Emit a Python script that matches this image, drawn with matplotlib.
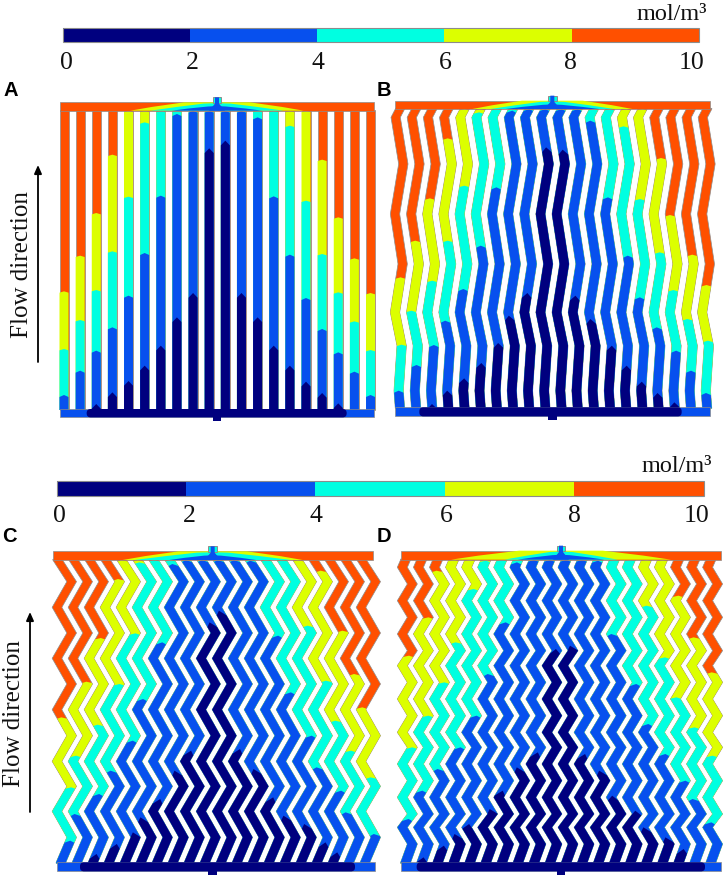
import numpy as np
import matplotlib
matplotlib.use("Agg")
import matplotlib.pyplot as plt
import matplotlib.patches as mpatches
from matplotlib.colors import ListedColormap, BoundaryNorm
from matplotlib.colorbar import ColorbarBase
from matplotlib.transforms import ScaledTranslation

W, H = 726, 879
SERIF = "Liberation Serif"
SANS = "Liberation Sans"

# colour scale
levels = [0, 2, 4, 6, 8, 10]
level_labels = ["0", "2", "4", "6", "8", "10"]
colors = ["#00007f", "#0750ee", "#00ffe1", "#dcff00", "#ff5000"]

n = np.nan
# where each channel crosses 8, 6, 4, 2 mol/m3 (panel units,
# measured downwards, nan = not reached inside the channel)
a_8 = [607, 500, 372, 197, 65, 65, 65, 65, 65, 65, 65, 65, 65, 65, 65, 65, 212, 385, 508, 612]
a_6 = [780, 693, 603, 487, 323, 100, 65, 65, 65, 65, 65, 65, 65, 65, 110, 335, 495, 610, 697, 783]
a_4 = [918, 845, 785, 715, 620, 492, 320, 75, 65, 65, 65, 65, 85, 322, 497, 627, 720, 790, 848, 918]
a_2 = [n, n, 945, 910, 876, 830, 770, 685, 612, 178, 155, 612, 685, 770, 830, 878, 912, 943, n, n]

b_8 = [565, 455, 328, 148, 60, 60, 60, 60, 60, 60, 60, 60, 60, 60, 60, 60, 207, 378, 497, 588]
b_6 = [767, 665, 575, 455, 290, 70, 60, 60, 60, 60, 60, 60, 60, 60, 112, 330, 490, 603, 690, 755]
b_4 = [905, 828, 768, 695, 600, 470, 295, 65, 60, 60, 60, 60, 95, 325, 500, 625, 715, 785, 845, 912]
b_2 = [n, n, 945, 905, 868, 822, 762, 680, 612, 175, 182, 620, 690, 770, 830, 878, 912, 940, n, n]

c_8 = [550, 443, 312, 135, 78, 78, 78, 78, 78, 78, 78, 78, 78, 78, 78, 78, 110, 290, 420, 520]
c_6 = [760, 665, 572, 450, 298, 85, 78, 78, 78, 78, 78, 78, 78, 78, 78, 275, 440, 560, 650, 730]
c_4 = [920, 840, 780, 710, 620, 495, 325, 90, 78, 78, 78, 78, 80, 305, 475, 605, 700, 770, 835, 900]
c_2 = [n, n, 960, 930, 895, 850, 795, 710, 650, 265, 230, 645, 705, 790, 845, 870, 925, 955, n, n]

d_8 = [365, 250, 110, 77, 77, 77, 77, 77, 77, 77, 77, 77, 77, 77, 77, 77, 77, 185, 310, 415]
d_6 = [640, 545, 445, 325, 165, 80, 77, 77, 77, 77, 77, 77, 77, 77, 77, 215, 370, 490, 580, 665]
d_4 = [855, 770, 705, 640, 545, 420, 265, 85, 77, 77, 77, 77, 80, 300, 450, 570, 660, 740, 795, 865]
d_2 = [n, 970, 935, 900, 870, 825, 770, 700, 655, 345, 335, 660, 710, 785, 830, 880, 910, 945, n, n]

# channel centre line wander
b_zig_y = [60, 85, 225, 375, 525, 670, 770, 905, 960]
b_zig_x = [0, -13, 10, -15, 8, -15, 5, -4, 0]
c_zig_y = [78, 143, 220, 297, 373, 450, 527, 605, 682, 757, 832, 910, 985]
c_zig_x = [-20, 22, -22, 22, -22, 22, -22, 22, -22, 22, -22, 22, -10]
d_zig_y = [77, 100, 150, 200, 250, 300, 350, 395, 445, 495, 545, 595, 640, 690, 740, 790, 840, 880, 930, 985]
d_zig_x = [-5, -15, 15, -15, 15, -15, 15, -15, 15, -15, 15, -15, 15, -15, 15, -15, 15, -15, 15, -5]

# half widths of the contour domes in the top header (8, 6, 4)
a_dome = [260, 200, 135]
b_dome = [240, 185, 140]
c_dome = [270, 235, 130]
d_dome = [330, 170, 130]
dome_f = [[1.0, 0.75, 0.38, 0.0], [1.0, 0.6, 0.2, 0.0], [1.0, 0.65, 0.2, 0.0]]
dome_g = [[0.0, 0.45, 1.0, 1.0], [0.0, 0.45, 0.85, 0.9], [0.0, 0.25, 0.5, 0.55]]

panels = [
    dict(crop=(40, 90, 350, 340), x0=72, pitch=48.4, w=27, hx=(60, 1002), hbx=(60, 1002), top=(40, 65), bot=(960, 985),
         xc=531, navy=(140, 920), zy=[65, 960], zx=[0, 0], dome=a_dome, cross=(a_8, a_6, a_4, a_2)),
    dict(crop=(380, 90, 346, 340), x0=60, pitch=48.5, w=28, hx=(45, 990), hbx=(45, 990), top=(35, 60), bot=(955, 982),
         xc=517, navy=(118, 905), zy=b_zig_y, zx=b_zig_x, dome=b_dome, cross=(b_8, b_6, b_4, b_2)),
    dict(crop=(30, 535, 360, 344), x0=103, pitch=48, w=29, hx=(70, 1030), hbx=(80, 1035), top=(52, 78), bot=(985, 1012),
         xc=548, navy=(150, 975), zy=c_zig_y, zx=c_zig_x, dome=c_dome, cross=(c_8, c_6, c_4, c_2)),
    dict(crop=(385, 535, 341, 344), x0=67, pitch=48.2, w=30, hx=(48, 1008), hbx=(48, 1008), top=(50, 77), bot=(985, 1012),
         xc=528, navy=(95, 960), zy=d_zig_y, zx=d_zig_x, dome=d_dome, cross=(d_8, d_6, d_4, d_2)),
]

tips = [4, 4, 6, 14]
EDGE = "#8c8c8c"

fig = plt.figure(figsize=(W / 100, H / 100), dpi=100)


def px_axes(x, y, w, h):
    return fig.add_axes([x / W, 1 - (y + h) / H, w / W, h / H])


def channel_shape(p, i, y0, tip):
    xc = p["x0"] + p["pitch"] * i
    y_end = p["bot"][0] + 3
    zy, zx = p["zy"], p["zx"]
    ys = [y0 + tip] + [v for v in zy if y0 + tip < v < y_end] + [y_end]
    xs = [xc + np.interp(v, zy, zx) for v in ys]
    left = [(x - p["w"] / 2, v) for x, v in zip(xs, ys)]
    right = [(x + p["w"] / 2, v) for x, v in zip(xs, ys)]
    head = [(xc + np.interp(y0, zy, zx), y0)] if tip else []
    return head + left + right[::-1]


def draw_panel(p):
    cx, cy, cw, ch = p["crop"]
    ax = px_axes(cx, cy, cw, ch)
    ax.set_xlim(0, cw * 3)
    ax.set_ylim(ch * 3, 0)
    ax.axis("off")

    for i in range(20):
        top_y = p["top"][1] - 2
        ax.add_patch(mpatches.Polygon(channel_shape(p, i, top_y, 0), fc=colors[4], ec=EDGE, lw=0.5, zorder=2))
        for k, cross in enumerate(p["cross"]):
            if np.isnan(cross[i]):
                continue
            ax.add_patch(mpatches.Polygon(channel_shape(p, i, cross[i], tips[k]), fc=colors[3 - k], ec="none", zorder=3 + k))

    # top header and contour domes
    t0, t1 = p["top"]
    xc = p["xc"]
    ax.add_patch(mpatches.Rectangle((p["hx"][0], t0), p["hx"][1] - p["hx"][0], t1 - t0, fc=colors[4], ec=EDGE, lw=0.5, zorder=8))
    for k, hw in enumerate(p["dome"]):
        fr, gr = dome_f[k], dome_g[k]
        xs = [xc - hw * f for f in fr] + [xc + hw * f for f in fr[::-1]]
        ys = [t1 - (t1 - t0) * g for g in gr]
        ys = ys + ys[::-1]
        ax.add_patch(mpatches.Polygon(list(zip(xs, ys)), fc=colors[3 - k], ec="none", zorder=9 + k))
    # inlet stub
    ax.add_patch(mpatches.Rectangle((xc - 13, t0 - 15), 26, 17, fc=colors[2], ec=EDGE, lw=0.7, zorder=12))
    ax.add_patch(mpatches.Polygon([(xc - 6, t0 - 15), (xc + 6, t0 - 15), (xc + 6, t0 + 4), (xc + 24, t1), (xc - 24, t1), (xc - 6, t0 + 4)],
                                  fc=colors[1], ec="none", zorder=13))

    # bottom header and outlet
    b0, b1 = p["bot"]
    ax.add_patch(mpatches.Rectangle((p["hbx"][0], b0), p["hbx"][1] - p["hbx"][0], b1 - b0, fc=colors[1], ec=EDGE, lw=0.5, zorder=8))
    n0, n1 = p["navy"]
    ax.add_patch(mpatches.FancyBboxPatch((n0, b0), n1 - n0, b1 - b0, boxstyle="round,pad=0,rounding_size=12",
                                         fc=colors[0], ec="none", zorder=9))
    ax.add_patch(mpatches.Rectangle((xc - 13, b1), 26, 12, fc=colors[0], ec="none", zorder=9))


for p in panels:
    draw_panel(p)


def draw_colorbar(x0, x1, y0, y1, unit_x, unit_y, shifts, pad):
    cax = px_axes(x0, y0, x1 - x0, y1 - y0)
    cb = ColorbarBase(cax, cmap=ListedColormap(colors), norm=BoundaryNorm(levels, 5), orientation="horizontal",
                      spacing="proportional", ticks=levels)
    cb.ax.set_xticks(levels)
    cb.ax.set_xticklabels(level_labels, fontfamily=SERIF, fontsize=18.5, color="#111111")
    cb.ax.tick_params(axis="x", length=0, pad=pad)
    cb.ax.minorticks_off()
    cb.outline.set_edgecolor(EDGE)
    cb.outline.set_linewidth(0.8)
    cb.dividers.set_visible(False)
    for lab, dx in zip(cb.ax.get_xticklabels(), shifts):
        lab.set_transform(lab.get_transform() + ScaledTranslation(dx / 100, 0, fig.dpi_scale_trans))
    fig.text(unit_x / W, 1 - unit_y / H, "mol/m\u00b3", family=SERIF, fontsize=17.5, ha="right", va="center", color="#111111")


draw_colorbar(62.5, 699, 28.7, 43.3, 707, 15, [3.5, 3, 1, 1, -1, -7], 6)
draw_colorbar(56.5, 703.7, 481.7, 496.7, 711.6, 467, [2.5, 3, 1, 1, 0, -7.5], 6)

# panel letters
for txt, x, y in [("A", 3, 90), ("B", 377, 90), ("C", 2, 537), ("D", 377, 537)]:
    fig.text(x / W, 1 - y / H, txt, family=SANS, weight="bold", fontsize=14.5, ha="left", va="center")

# flow direction labels and arrows
overlay = fig.add_axes([0, 0, 1, 1])
overlay.set_xlim(0, W)
overlay.set_ylim(H, 0)
overlay.axis("off")
overlay.patch.set_alpha(0)
for tx, ty, ax_x, ax_y0, ax_y1 in [(22, 265, 38, 363, 166), (14, 714, 30, 813, 613)]:
    overlay.text(tx, ty, "Flow direction", family=SERIF, fontsize=18, rotation=90, ha="center", va="center", color="#111111")
    overlay.annotate("", xy=(ax_x, ax_y1), xytext=(ax_x, ax_y0),
                     arrowprops=dict(arrowstyle="-|>,head_width=0.22,head_length=0.5", color="black", lw=1.3, shrinkA=0, shrinkB=0))

fig.savefig("out.png", dpi=100)
